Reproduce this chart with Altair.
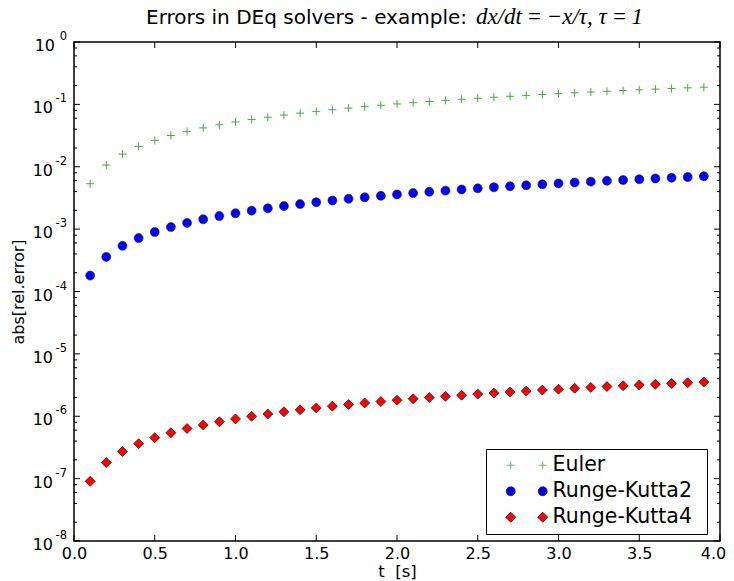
import altair as alt
import pandas as pd

# ---- data ----
t = [0.1, 0.2, 0.3, 0.4, 0.5, 0.6, 0.7, 0.8, 0.9, 1.0,
     1.1, 1.2, 1.3, 1.4, 1.5, 1.6, 1.7, 1.8, 1.9, 2.0,
     2.1, 2.2, 2.3, 2.4, 2.5, 2.6, 2.7, 2.8, 2.9, 3.0,
     3.1, 3.2, 3.3, 3.4, 3.5, 3.6, 3.7, 3.8, 3.9]

euler = [0.005346, 0.01066, 0.01595, 0.02121, 0.02644, 0.03165, 0.03683, 0.04197, 0.04710, 0.05219,
         0.05726, 0.06229, 0.06731, 0.07229, 0.07725, 0.08218, 0.08708, 0.09196, 0.09681, 0.1016,
         0.1064, 0.1112, 0.1160, 0.1207, 0.1254, 0.1301, 0.1347, 0.1394, 0.1440, 0.1485,
         0.1531, 0.1576, 0.1621, 0.1666, 0.1711, 0.1755, 0.1799, 0.1843, 0.1886]

rk2 = [1.80e-4, 3.59e-4, 5.39e-4, 7.19e-4, 8.99e-4, 1.079e-3, 1.259e-3, 1.439e-3, 1.619e-3, 1.799e-3,
       1.979e-3, 2.159e-3, 2.339e-3, 2.519e-3, 2.699e-3, 2.879e-3, 3.060e-3, 3.240e-3, 3.420e-3, 3.600e-3,
       3.781e-3, 3.961e-3, 4.141e-3, 4.322e-3, 4.502e-3, 4.683e-3, 4.863e-3, 5.044e-3, 5.224e-3, 5.405e-3,
       5.585e-3, 5.766e-3, 5.947e-3, 6.127e-3, 6.308e-3, 6.489e-3, 6.670e-3, 6.850e-3, 7.031e-3]

rk4 = [9.06e-8, 1.812e-7, 2.718e-7, 3.624e-7, 4.530e-7, 5.436e-7, 6.342e-7, 7.248e-7, 8.154e-7, 9.060e-7,
       9.966e-7, 1.087e-6, 1.178e-6, 1.268e-6, 1.359e-6, 1.450e-6, 1.540e-6, 1.631e-6, 1.721e-6, 1.812e-6,
       1.903e-6, 1.993e-6, 2.084e-6, 2.174e-6, 2.265e-6, 2.356e-6, 2.446e-6, 2.537e-6, 2.627e-6, 2.718e-6,
       2.809e-6, 2.899e-6, 2.990e-6, 3.080e-6, 3.171e-6, 3.262e-6, 3.352e-6, 3.443e-6, 3.533e-6]

names = ["Euler", "Runge-Kutta2", "Runge-Kutta4"]

xticks = [0.0, 0.5, 1.0, 1.5, 2.0, 2.5, 3.0, 3.5, 4.0]
decades = [1e-8, 1e-7, 1e-6, 1e-5, 1e-4, 1e-3, 1e-2, 1e-1, 1e0]
exponents = ["-8", "-7", "-6", "-5", "-4", "-3", "-2", "-1", "0"]
minor = [2e-8, 4e-8, 6e-8, 8e-8, 2e-7, 4e-7, 6e-7, 8e-7,
         2e-6, 4e-6, 6e-6, 8e-6, 2e-5, 4e-5, 6e-5, 8e-5,
         2e-4, 4e-4, 6e-4, 8e-4, 2e-3, 4e-3, 6e-3, 8e-3,
         2e-2, 4e-2, 6e-2, 8e-2, 2e-1, 4e-1, 6e-1, 8e-1]

title_text = "Errors in DEq solvers - example:"
title_math = "dx/dt\u2009=\u2009\u2212x/\u03c4, \u03c4\u2009=\u20091"
x_title = "t\u00a0 [s]"
y_title = "abs[rel.error]"

# ---- styling ----
W, H = 646, 499
FONT = "DejaVu Sans"
GREEN, BLUE, RED = "#44aa44", "#0000ff", "#ff0000"
PLUS = "M -1 0 L 1 0 M 0 -1 L 0 1"
# legend symbols: two markers per entry (symbol scale r = 5 px per unit)
PLUS2 = "M -4 0 L -2.4 0 M -3.2 -0.8 L -3.2 0.8 M 2.4 0 L 4 0 M 3.2 -0.8 L 3.2 0.8"
CIRC2 = ("M -2.3 0 A 0.9 0.9 0 1 1 -4.1 0 A 0.9 0.9 0 1 1 -2.3 0 Z "
         "M 4.1 0 A 0.9 0.9 0 1 1 2.3 0 A 0.9 0.9 0 1 1 4.1 0 Z")
DIAM2 = ("M -3.2 -1 L -2.2 0 L -3.2 1 L -4.2 0 Z "
         "M 3.2 -1 L 4.2 0 L 3.2 1 L 2.2 0 Z")
LEG_LABEL = "datum.label + '\u2009\u2009\u200b'"

xs = alt.Scale(domain=[0, 4], nice=False, zero=False)
ys = alt.Scale(type="log", domain=[1e-8, 1], nice=False)

df_e = pd.DataFrame({"t": t, "err": euler, "series": names[0]})
df_2 = pd.DataFrame({"t": t, "err": rk2, "series": names[1]})
df_4 = pd.DataFrame({"t": t, "err": rk4, "series": names[2]})
df_all = pd.concat([df_e, df_2, df_4], ignore_index=True)

x_axis = alt.Axis(values=xticks, format=".1f", title=x_title, ticks=False, domain=False,
                  grid=False, labelFontSize=16, labelFont=FONT, labelColor="black",
                  labelPadding=4, labelFlush=False, labelOverlap=False,
                  labelOffset={"condition": {"test": "datum.value == 4", "value": -7}, "value": 0},
                  titleFontSize=16.5, titleFont=FONT, titleFontWeight="normal",
                  titleColor="black", titleY=35, titleBaseline="alphabetic")
y_axis = alt.Axis(labels=False, ticks=False, domain=False, grid=False, title=y_title,
                  titleFontSize=16, titleFont=FONT, titleFontWeight="normal",
                  titleColor="black", titleX=-56, titleY=H / 2, titleAngle=-90,
                  titleAlign="center", titleBaseline="middle")


def X(field):
    return alt.X(field, scale=xs, axis=x_axis)


def Y(field):
    return alt.Y(field, scale=ys, axis=y_axis)


euler_layer = alt.Chart(df_e).mark_point(shape=PLUS, filled=False, stroke=GREEN,
                                         strokeWidth=1, size=64, opacity=1).encode(
    x=X("t:Q"), y=Y("err:Q"))
rk2_layer = alt.Chart(df_2).mark_point(shape="circle", filled=True, fill=BLUE, stroke="#222",
                                       strokeWidth=0.6, size=81, opacity=1).encode(
    x=X("t:Q"), y=Y("err:Q"))
rk4_layer = alt.Chart(df_4).mark_point(shape="diamond", filled=True, fill=RED, stroke="#111",
                                       strokeWidth=0.7, size=100, opacity=1).encode(
    x=X("t:Q"), y=Y("err:Q"))

leg = dict(title=None, labelExpr=LEG_LABEL, symbolSize=100)
legend_layer = alt.Chart(df_all).mark_point(filled=True, opacity=0, strokeWidth=0.8).encode(
    x=X("t:Q"), y=Y("err:Q"),
    shape=alt.Shape("series:N", scale=alt.Scale(domain=names, range=[PLUS2, CIRC2, DIAM2]),
                    legend=alt.Legend(**leg)),
    fill=alt.Fill("series:N", scale=alt.Scale(domain=names, range=[GREEN, BLUE, RED]),
                  legend=alt.Legend(**leg)),
    stroke=alt.Stroke("series:N", scale=alt.Scale(domain=names, range=[GREEN, "#222", "#111"]),
                      legend=alt.Legend(**leg)),
)

# inward ticks
xt = pd.DataFrame({"v": xticks})
yt = pd.DataFrame({"v": decades})
ym = pd.DataFrame({"v": minor})
rule = dict(color="black", strokeWidth=1)
tx_bot = alt.Chart(xt).mark_rule(**rule).encode(
    x=X("v:Q"), y=alt.value(H), y2=alt.value(H - 6))
tx_top = alt.Chart(xt).mark_rule(**rule).encode(
    x=X("v:Q"), y=alt.value(0), y2=alt.value(6))
ty_l = alt.Chart(yt).mark_rule(**rule).encode(
    y=Y("v:Q"), x=alt.value(0), x2=alt.value(6))
ty_r = alt.Chart(yt).mark_rule(**rule).encode(
    y=Y("v:Q"), x=alt.value(W), x2=alt.value(W - 6))
tm_l = alt.Chart(ym).mark_rule(**rule).encode(
    y=Y("v:Q"), x=alt.value(0), x2=alt.value(3))
tm_r = alt.Chart(ym).mark_rule(**rule).encode(
    y=Y("v:Q"), x=alt.value(W), x2=alt.value(W - 3))

# y tick labels: 10 with superscript exponent
lab = pd.DataFrame({"v": decades, "e": exponents})
ten_neg = alt.Chart(lab).transform_filter(alt.datum.e != "0").mark_text(
    text="10", align="right", baseline="alphabetic", fontSize=16, font=FONT,
    color="black", dy=9).encode(y=Y("v:Q"), x=alt.value(-21))
ten_zero = alt.Chart(lab).transform_filter(alt.datum.e == "0").mark_text(
    text="10", align="right", baseline="alphabetic", fontSize=16, font=FONT,
    color="black", dy=9).encode(y=Y("v:Q"), x=alt.value(-19))
expo = alt.Chart(lab).mark_text(align="right", baseline="alphabetic", fontSize=11.5,
                                font=FONT, color="black", dy=-2).encode(
    y=Y("v:Q"), x=alt.value(-7), text="e:N")

# title (sans part + math part)
t1 = alt.Chart(pd.DataFrame({"s": [title_text]})).mark_text(
    align="right", baseline="alphabetic", fontSize=20, font=FONT, color="black").encode(
    text="s:N", x=alt.value(393), y=alt.value(-18))
t2 = alt.Chart(pd.DataFrame({"s": [title_math]})).mark_text(
    align="left", baseline="alphabetic", fontSize=23, font="Liberation Serif",
    fontStyle="italic", color="black").encode(
    text="s:N", x=alt.value(402), y=alt.value(-18))

chart = alt.layer(
    euler_layer, rk2_layer, rk4_layer, legend_layer,
    tx_bot, tx_top, ty_l, ty_r, tm_l, tm_r,
    ten_neg, ten_zero, expo, t1, t2,
).resolve_scale(shape="independent", fill="independent", stroke="independent").properties(
    width=W, height=H,
    padding={"left": 66, "top": 34, "right": 6, "bottom": 40},
    autosize=alt.AutoSizeParams(type="none"),
    background="white",
).configure_view(stroke="black", strokeWidth=1.5).configure_legend(
    orient="none", legendX=412, legendY=407, padding=6, fillColor="white", strokeColor="black",
    strokeWidth=1, labelFontSize=20.5, labelFont=FONT, labelColor="black",
    symbolSize=100, symbolOffset=24.5, labelOffset=15.5, rowPadding=5,
    symbolStrokeWidth=0.8, symbolOpacity=1,
)

chart.save("out.html", embed_options={"renderer": "svg", "actions": False})
